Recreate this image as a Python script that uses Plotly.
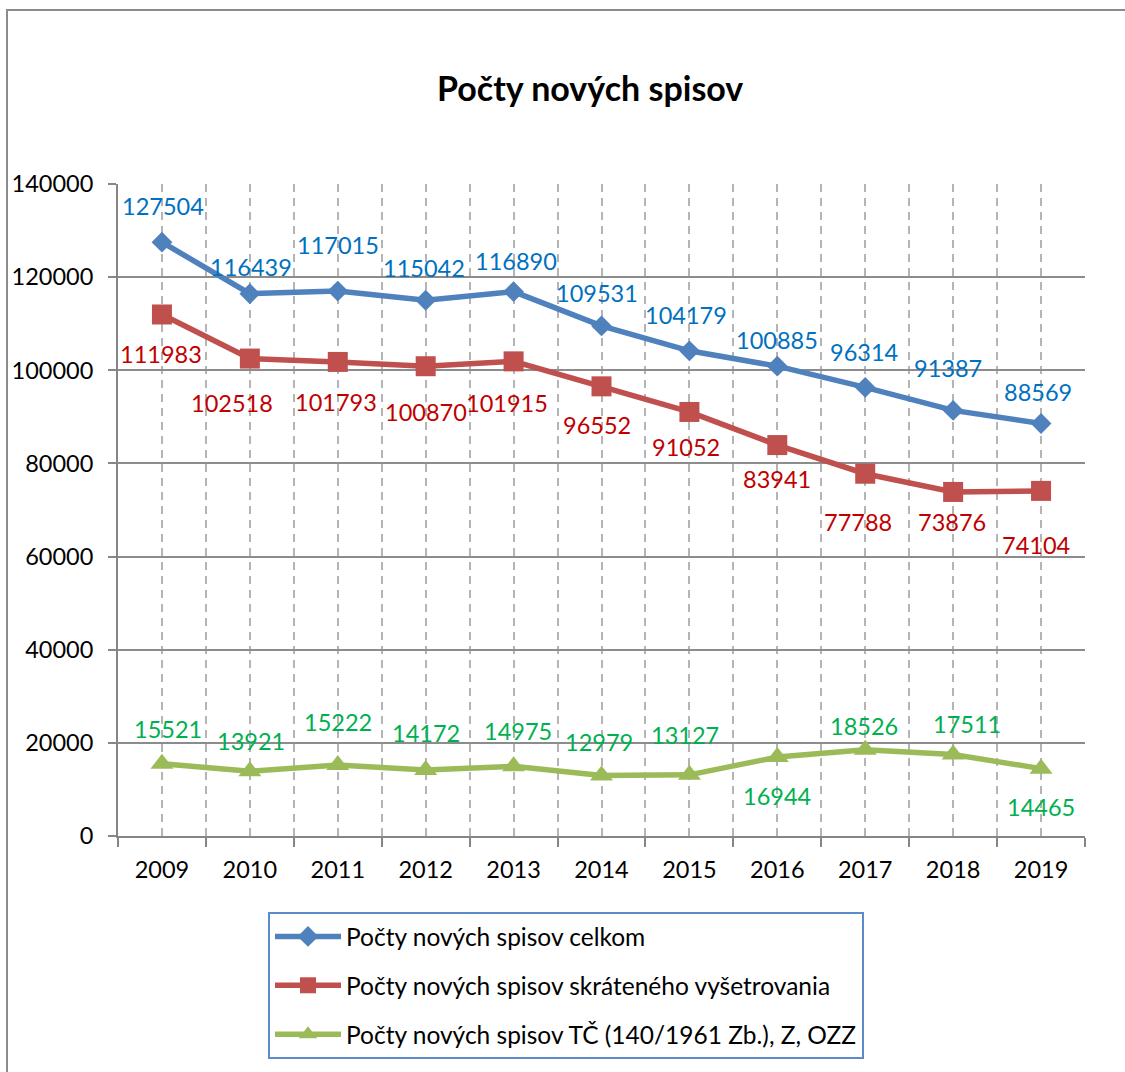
import plotly.graph_objects as go

years = [2009, 2010, 2011, 2012, 2013, 2014, 2015, 2016, 2017, 2018, 2019]
celkom = [127504, 116439, 117015, 115042, 116890, 109531, 104179, 100885, 96314, 91387, 88569]
skratene = [111983, 102518, 101793, 100870, 101915, 96552, 91052, 83941, 77788, 73876, 74104]
tc = [15521, 13921, 15222, 14172, 14975, 12979, 13127, 16944, 18526, 17511, 14465]
names = ["Počty nových spisov celkom",
         "Počty nových spisov skráteného vyšetrovania",
         "Počty nových spisov TČ (140/1961 Zb.), Z, OZZ"]
y_ticks = [0, 20000, 40000, 60000, 80000, 100000, 120000, 140000]

# label offsets in pixels (style only)
off_celkom = [(1, 36), (1, 27), (0, 46), (-2, 32), (2, 31), (-5, 33), (-3, 36), (0, 26), (-1, 35), (-5, 42), (-3, 32)]
off_skr = [(-1, -40), (-18, -44), (-2, -40), (0, -46), (-7, -42), (-5, -39), (-3, -35), (0, -34), (-7, -48), (-1, -30), (-5, -54)]
off_tc = [(6, 35), (1, 30), (0, 43), (0, 37), (4, 35), (-3, 34), (-4, 40), (0, -39), (-1, 24), (14, 30), (0, -38)]

FONT = "Lato"
W, H = 1125, 1072
L, R, T, B = 118, 40, 184, 236
pw, ph = W - L - R, H - T - B

series = [
    (celkom, names[0], "#4F81BD", "#0070C0", "diamond", 16, off_celkom),
    (skratene, names[1], "#C0504D", "#C00000", "square", 20, off_skr),
    (tc, names[2], "#9BBB59", "#00B050", "triangle-up", 20, off_tc),
]

fig = go.Figure()
annotations = []
for i, (vals, name, lc, tcol, sym, msz, offs) in enumerate(series):
    fig.add_trace(go.Scatter(
        x=years, y=vals, name=name, mode="lines+markers",
        line=dict(color=lc, width=5.5),
        marker=dict(symbol=sym, size=msz, color=lc),
        legendgroup=f"g{i}", cliponaxis=False,
    ))
    for xv, yv, (dx, dy) in zip(years, vals, offs):
        annotations.append(dict(
            x=xv, y=yv, xref="x", yref="y", text=str(yv), showarrow=False,
            xshift=dx, yshift=dy, font=dict(family=FONT, size=23.5, color=tcol),
            xanchor="center", yanchor="middle",
        ))

# Title
annotations.append(dict(
    x=(590 - L) / pw, y=(H - B - 88) / ph, xref="paper", yref="paper",
    text="<b>Počty nových spisov</b>", showarrow=False,
    font=dict(family=FONT, size=34, color="#000000"),
    xanchor="center", yanchor="middle",
))

shapes = [dict(
    type="rect", xref="paper", yref="paper",
    x0=(7 - L) / pw, x1=(W + 20 - L) / pw,
    y0=(H - B - (H + 20)) / ph, y1=(H - B - 10) / ph,
    line=dict(color="#8c8c8c", width=2), fillcolor="rgba(0,0,0,0)", layer="below",
)]

fig.update_layout(
    width=W, height=H,
    margin=dict(l=L, r=R, t=T, b=B),
    paper_bgcolor="white", plot_bgcolor="white",
    font=dict(family=FONT, size=23.5, color="#000000"),
    showlegend=True,
    legend=dict(
        x=(268 - L) / pw, y=(H - B - 912) / ph, xanchor="left", yanchor="top",
        bordercolor="#5B8BC9", borderwidth=2, bgcolor="white",
        font=dict(family=FONT, size=24.5, color="#000000"),
        tracegroupgap=14, itemwidth=66,
    ),
    annotations=annotations,
    shapes=shapes,
    xaxis=dict(
        range=[2008.5, 2019.5], tickvals=years, ticktext=[str(y) for y in years],
        ticks="", showgrid=True, gridcolor="#B4B4B4", griddash="8px,6px", gridwidth=2,
        showline=True, linecolor="#868686", linewidth=2, zeroline=False,
        tickfont=dict(family=FONT, size=23.5, color="#000000"),
        ticklabelstandoff=12,
        minor=dict(tick0=2008.5, dtick=1, ticks="outside", ticklen=9, tickcolor="#868686",
                   tickwidth=2, showgrid=True, gridcolor="#B4B4B4", griddash="8px,6px", gridwidth=2),
        fixedrange=True,
    ),
    yaxis=dict(
        range=[0, 140000], tickvals=y_ticks, tickformat="d",
        ticks="outside", ticklen=8, tickcolor="#868686", tickwidth=2,
        showgrid=True, gridcolor="#8c8c8c", gridwidth=2,
        showline=True, linecolor="#868686", linewidth=2, zeroline=False,
        tickfont=dict(family=FONT, size=23.5, color="#000000"),
        ticklabelstandoff=10,
        fixedrange=True,
    ),
)

fig.write_html(
    "out.html",
    config={"displayModeBar": False},
    post_script="document.body.style.margin='0px';document.body.style.overflow='hidden';",
)
